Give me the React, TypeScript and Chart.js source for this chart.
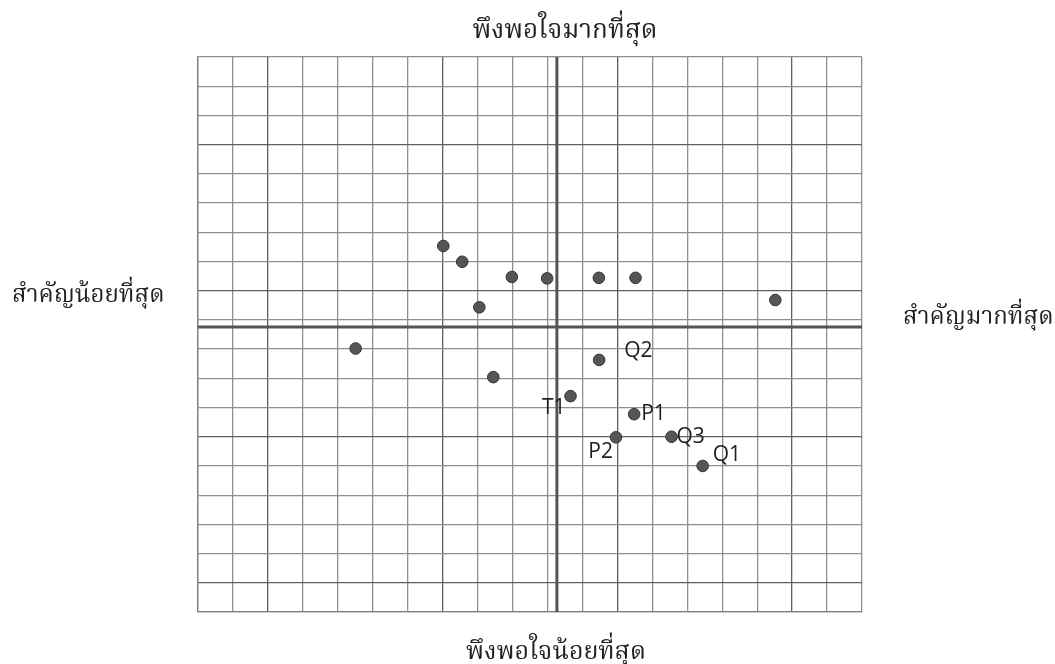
import React, { useEffect, useRef } from "react";
import { Chart, registerables } from "chart.js";

Chart.register(...registerables);

// Data in grid-cell units (x: left→right, y: bottom→top)
const pointLabels = ["", "", "", "", "", "", "", "", "", "", "Q2", "T1", "P1", "P2", "Q3", "Q1"];
const xValues = [7.02, 7.56, 8.98, 9.99, 8.05, 4.51, 11.47, 12.52, 16.52, 8.45, 11.48, 10.66, 12.48, 11.96, 13.55, 14.44];
const yValues = [12.53, 11.99, 11.47, 11.42, 10.43, 9.02, 11.44, 11.44, 10.68, 8.04, 8.63, 7.39, 6.77, 5.98, 6.0, 5.0];
const gridMax = 19;
const axisX = 10.27; // vertical axis position
const axisY = 9.76; // horizontal axis position

const titleTop = "พึงพอใจมากที่สุด";
const titleBottom = "พึงพอใจน้อยที่สุด";
const titleLeft = "สำคัญน้อยที่สุด";
const titleRight = "สำคัญมากที่สุด";

const labelPlacement: Record<string, { dx: number; dy: number; align: CanvasTextAlign }> = {
  Q2: { dx: 25, dy: -9, align: "left" },
  T1: { dx: -5, dy: 12, align: "right" },
  P1: { dx: 7, dy: 0, align: "left" },
  P2: { dx: -3, dy: 15, align: "right" },
  Q3: { dx: 5, dy: 0, align: "left" },
  Q1: { dx: 10, dy: -11, align: "left" },
};

const axesPlugin = {
  id: "quadAxes",
  beforeDatasetsDraw(chart: any) {
    const { ctx, chartArea, scales } = chart;
    const px = scales.x.getPixelForValue(axisX);
    const py = scales.y.getPixelForValue(axisY);
    ctx.save();
    ctx.strokeStyle = "#555555";
    ctx.lineWidth = 3;
    ctx.beginPath();
    ctx.moveTo(px, chartArea.top);
    ctx.lineTo(px, chartArea.bottom);
    ctx.moveTo(chartArea.left, py);
    ctx.lineTo(chartArea.right, py);
    ctx.stroke();
    ctx.restore();
  },
  afterDatasetsDraw(chart: any) {
    const { ctx } = chart;
    const meta = chart.getDatasetMeta(0);
    ctx.save();
    ctx.font = "21px 'Open Sans', sans-serif";
    ctx.fillStyle = "#1e1e1e";
    ctx.textBaseline = "middle";
    meta.data.forEach((el: any, i: number) => {
      const lab = pointLabels[i];
      if (!lab) return;
      const p = labelPlacement[lab];
      ctx.textAlign = p.align;
      ctx.fillText(lab, el.x + p.dx, el.y + p.dy);
    });
    ctx.restore();
  },
};

const gridColor = (ctx: any, majors: number[]) => {
  const v = ctx.tick ? ctx.tick.value : 0;
  return majors.includes(v) ? "#606060" : "#8f8f8f";
};

export default function App() {
  const ref = useRef<HTMLCanvasElement | null>(null);
  useEffect(() => {
    if (!ref.current) return;
    const chart = new Chart(ref.current, {
      type: "scatter",
      data: {
        datasets: [
          {
            data: xValues.map((x, i) => ({ x, y: yValues[i] })),
            backgroundColor: "#555555",
            borderColor: "#333333",
            borderWidth: 1,
            pointRadius: 5.8,
          },
        ],
      },
      options: {
        responsive: false,
        animation: false,
        layout: { padding: { left: 198, right: 193, top: 57, bottom: 52 } },
        plugins: { legend: { display: false }, tooltip: { enabled: false } },
        scales: {
          x: {
            type: "linear",
            min: 0,
            max: gridMax,
            ticks: { display: false, stepSize: 1 },
            grid: {
              drawTicks: false,
              color: (c: any) => gridColor(c, [2, 7, 12, 17]),
              lineWidth: 1.3,
            },
            border: { display: true, color: "#808080", width: 1.3 },
          },
          y: {
            type: "linear",
            min: 0,
            max: gridMax,
            ticks: { display: false, stepSize: 1 },
            grid: {
              drawTicks: false,
              color: (c: any) => gridColor(c, [1, 6, 11, 16]),
              lineWidth: 1.3,
            },
            border: { display: true, color: "#808080", width: 1.3 },
          },
        },
      },
      plugins: [axesPlugin],
    });
    return () => chart.destroy();
  }, []);

  const thai: React.CSSProperties = {
    position: "absolute",
    fontFamily: "'Noto Serif Thai', 'Noto Sans Thai', serif",
    fontSize: 24,
    color: "#222",
    whiteSpace: "nowrap",
    lineHeight: 1,
  };

  return (
    <div style={{ position: "absolute", left: 0, top: 0, width: 1055, height: 664, background: "#fff" }}>
      <canvas ref={ref} width={1055} height={664} style={{ position: "absolute", left: 0, top: 0 }} />
      <div style={{ ...thai, fontSize: 26, left: 565, top: 31, transform: "translate(-50%,-50%)" }}>{titleTop}</div>
      <div style={{ ...thai, fontSize: 25, left: 556, top: 652, transform: "translate(-50%,-50%)" }}>{titleBottom}</div>
      <div style={{ ...thai, left: 12, top: 296, transform: "translate(0,-50%)" }}>{titleLeft}</div>
      <div style={{ ...thai, left: 903, top: 318, transform: "translate(0,-50%)" }}>{titleRight}</div>
    </div>
  );
}
